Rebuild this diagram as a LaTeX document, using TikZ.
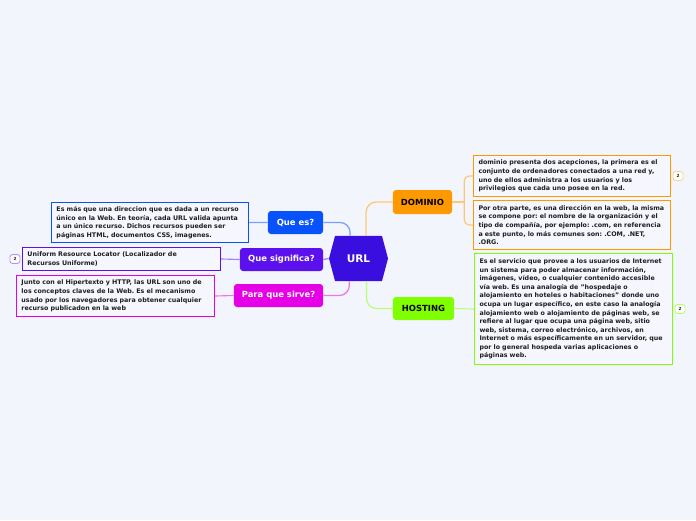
\documentclass[tikz,border=0pt]{standalone}
\usepackage{fontspec}
\setmainfont{DejaVu Sans}
\frenchspacing
\usetikzlibrary{shapes.symbols}
\definecolor{fondo}{RGB}{243,245,253}
\definecolor{caja}{RGB}{246,247,254}
\definecolor{centro}{RGB}{58,14,222}
\definecolor{azul}{RGB}{8,82,252}
\definecolor{morado}{RGB}{92,16,238}
\definecolor{magenta}{RGB}{230,0,230}
\definecolor{naranja}{RGB}{255,153,0}
\definecolor{verde}{RGB}{128,255,0}
\definecolor{tinta}{RGB}{30,30,30}
\begin{document}
\begin{tikzpicture}[x=0.025cm,y=-0.025cm,
    tema/.style={rounded corners=0.075cm,text=white,inner sep=0pt,minimum height=0.575cm,font=\fontsize{6}{7}\selectfont\bfseries},
    texto/.style={draw,line width=0.7pt,fill=caja,anchor=north west,align=left,inner xsep=0.125cm,inner ysep=0pt,text=tinta,font=\fontsize{4.5}{6.1}\selectfont\bfseries\frenchspacing},
    rama/.style={line width=0.9pt,rounded corners=0.25cm},
    insignia/.style={draw,line width=0.6pt,rounded corners=0.06cm,fill=white,text=tinta,minimum width=0.25cm,minimum height=0.22cm,inner sep=0pt,font=\fontsize{3}{3}\selectfont\bfseries}]
  \fill[fondo] (0,0) rectangle (696,520);
  \useasboundingbox (0,0) rectangle (696,520);
  % centro
  \node[signal,signal to=east and west,signal pointer angle=150,fill=centro,text=white,minimum width=1.475cm,minimum height=1.125cm,inner sep=0pt,font=\fontsize{7.5}{8}\selectfont\bfseries] (url) at (358.5,258.5) {URL};
  % temas
  \node[tema,fill=azul,minimum width=1.375cm] (quees) at (295.5,222.5) {Que es?};
  \node[tema,fill=morado,minimum width=2.075cm] (quesig) at (281.5,259.5) {Que significa?};
  \node[tema,fill=magenta,minimum width=2.225cm] (para) at (278.5,295.5) {Para que sirve?};
  \node[tema,fill=naranja,text=black,minimum width=1.475cm,minimum height=0.6cm] (dominio) at (422.5,202) {DOMINIO};
  \node[tema,fill=verde,text=black,minimum width=1.525cm] (hosting) at (423.5,308.5) {HOSTING};
  % textos
  \node[texto,draw=azul,text width=4.675cm,minimum height=1cm] (tquees) at (51,202) {Es más que una direccion que es dada a un recurso\\único en la Web. En teoría, cada URL valida apunta\\a un único recurso. Dichos recursos pueden ser\\páginas HTML, documentos CSS, imagenes.};
  \node[texto,draw=morado,text width=4.7cm,minimum height=0.575cm] (tquesig) at (22,247) {Uniform Resource Locator (Localizador de\\Recursos Uniforme)};
  \node[texto,draw=magenta,text width=4.7cm,minimum height=1.025cm] (tpara) at (16,275) {Junto con el Hipertexto y HTTP, las URL son uno de\\los conceptos claves de la Web. Es el mecanismo\\usado por los navegadores para obtener cualquier\\recurso publicadon en la web};
  \node[texto,draw=naranja,text width=4.675cm,minimum height=1.025cm] (tdom1) at (473,155) {dominio presenta dos acepciones, la primera es el\\conjunto de ordenadores conectados a una red y,\\uno de ellos administra a los usuarios y los\\privilegios que cada uno posee en la red.};
  \node[texto,draw=naranja,text width=4.675cm,minimum height=1.225cm] (tdom2) at (473,200) {Por otra parte, es una dirección en la web, la misma\\se compone por: el nombre de la organización y el\\tipo de compañía, por ejemplo: .com, en referencia\\a este punto, lo más comunes son: .COM, .NET,\\.ORG.};
  \node[texto,draw=verde,text width=4.7cm,minimum height=2.775cm] (thost) at (474,253) {Es el servicio que provee a los usuarios de Internet\\un sistema para poder almacenar información,\\imágenes, vídeo, o cualquier contenido accesible\\vía web. Es una analogía de "hospedaje o\\alojamiento en hoteles o habitaciones" donde uno\\ocupa un lugar específico, en este caso la analogía\\alojamiento web o alojamiento de páginas web, se\\refiere al lugar que ocupa una página web, sitio\\web, sistema, correo electrónico, archivos, en\\Internet o más específicamente en un servidor, que\\por lo general hospeda varias aplicaciones o\\páginas web.};
  % insignias
  \node[insignia,draw=morado!45] (n1) at (15,259) {2};
  \node[insignia,draw=naranja!45] (n2) at (678,176) {2};
  \node[insignia,draw=verde!60] (n3) at (680,309) {2};
  % ramas
  \draw[rama,azul!55] ([xshift=-0.21cm]url.north) |- (quees.east);
  \draw[rama,morado!55] (url.west) -- (quesig.east);
  \draw[rama,magenta!55] ([xshift=-0.23cm]url.south) |- (para.east);
  \draw[rama,naranja!55] ([xshift=0.19cm]url.north) |- (dominio.west);
  \draw[rama,verde!55] ([xshift=0.2cm]url.south) |- (hosting.west);
  \draw[line width=0.8pt,azul!55] (quees.west) -- (tquees.east);
  \draw[line width=0.8pt,morado!55] (quesig.west) -- (tquesig.east);
  \draw[line width=0.8pt,magenta!55] (para.west) -- (tpara.east);
  \draw[line width=0.8pt,naranja!55] (dominio.east) -- ([xshift=0.3cm]dominio.east);
  \draw[line width=0.8pt,naranja!55,rounded corners=0.12cm] ([xshift=0.3cm]dominio.east) |- (tdom1.west);
  \draw[line width=0.8pt,naranja!55,rounded corners=0.12cm] ([xshift=0.3cm]dominio.east) |- (tdom2.west);
  \draw[line width=0.8pt,verde!55] (hosting.east) -- (thost.west);
\end{tikzpicture}
\end{document}
